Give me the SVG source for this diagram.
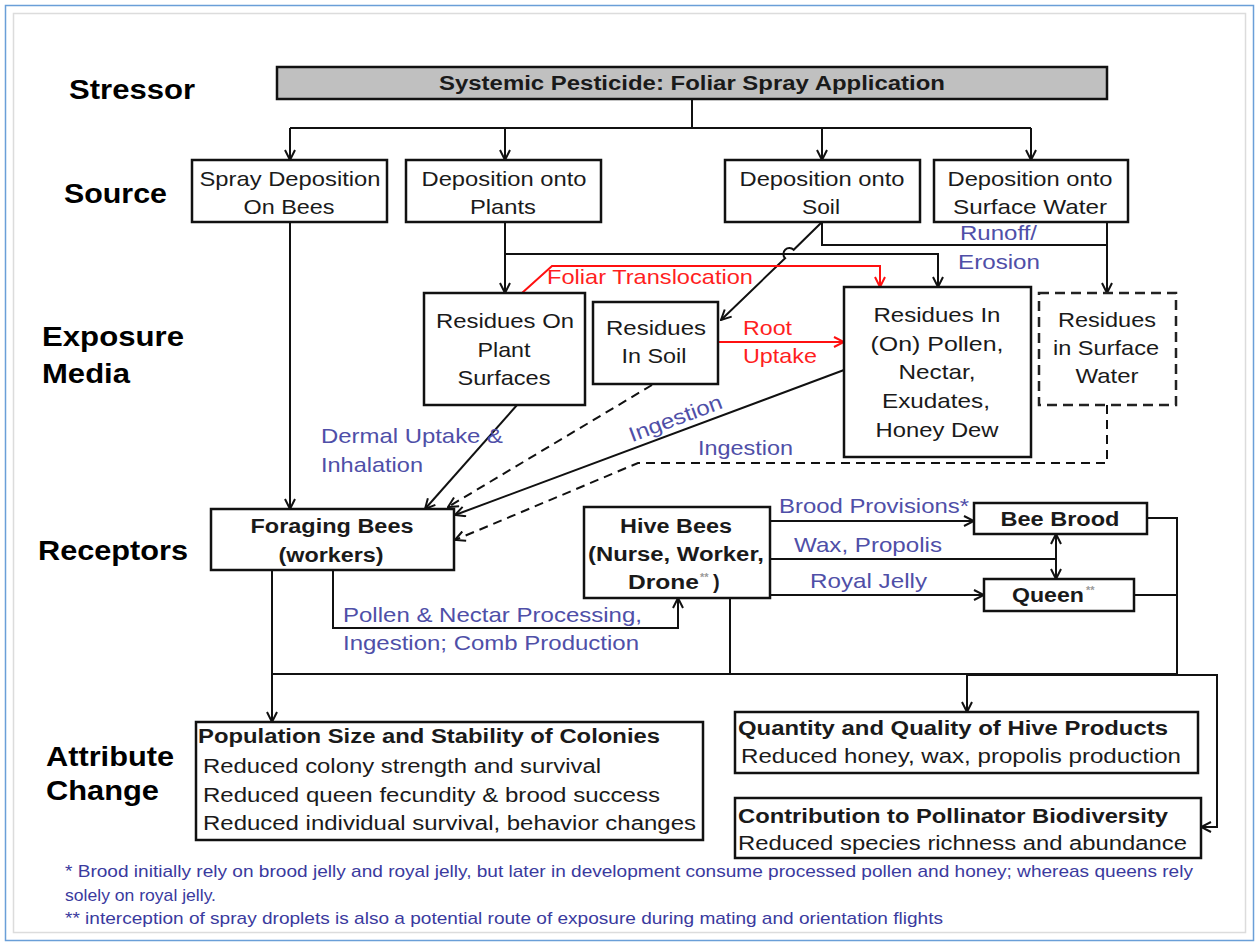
<svg xmlns="http://www.w3.org/2000/svg" width="1259" height="945" viewBox="0 0 1259 945">
  <style>
    .t { font-family: "Liberation Sans", Arial, Helvetica, sans-serif; font-size: 21px; fill: #1a1a1a; }
    .c { text-anchor: middle; }
    .b { font-weight: bold; }
    .bs { font-size: 20px; }
    .at { font-size: 19.5px; }
    .row { font-size: 28px; font-weight: bold; fill: #000; }
    .lbl { fill: #4f4fa8; }
    .red { fill: #ff1f1f; }
    .fn { font-size: 17px; fill: #3a3a9e; }
    .sup { font-size: 11px; fill: #9a9a9a; font-weight: bold; }
    .box { fill: #fff; stroke: #111; stroke-width: 2.5; }
    .bar { fill: #c0c0c0; stroke: #111; stroke-width: 2.5; }
    .dbox { fill: #fff; stroke: #222; stroke-width: 2.5; stroke-dasharray: 10 6; }
    .ln { fill: none; stroke: #111; stroke-width: 2; }
    .dash { stroke-dasharray: 9 6; }
    .rl { fill: none; stroke: #ff1010; stroke-width: 2; }
  </style>
  <defs>
    <marker id="ah" viewBox="0 0 12 12" markerWidth="12" markerHeight="12" refX="11" refY="6" orient="auto" markerUnits="userSpaceOnUse">
      <path d="M1,1 L11,6 L1,11" fill="none" stroke="#111" stroke-width="2"/>
    </marker>
    <marker id="ah2" viewBox="0 0 12 12" markerWidth="12" markerHeight="12" refX="11" refY="6" orient="auto-start-reverse" markerUnits="userSpaceOnUse">
      <path d="M1,1 L11,6 L1,11" fill="none" stroke="#111" stroke-width="2"/>
    </marker>
    <marker id="ahr" viewBox="0 0 12 12" markerWidth="12" markerHeight="12" refX="11" refY="6" orient="auto" markerUnits="userSpaceOnUse">
      <path d="M1,1 L11,6 L1,11" fill="none" stroke="#ff1010" stroke-width="2"/>
    </marker>
  </defs>

  <!-- page frame -->
  <rect x="0" y="0" width="1259" height="945" fill="#fff"/>
  <rect x="5.5" y="5.5" width="1248" height="935" fill="none" stroke="#6a9fd8" stroke-width="1.5"/>
  <rect x="13.5" y="13.5" width="1232" height="919" fill="none" stroke="#dcdcdc" stroke-width="1.5"/>

  <!-- tier labels -->
  <g id="tier-labels">
    <text class="t row" x="69" y="99" textLength="126" lengthAdjust="spacingAndGlyphs">Stressor</text>
    <text class="t row" x="64" y="203" textLength="103" lengthAdjust="spacingAndGlyphs">Source</text>
    <text class="t row" x="42" y="346" textLength="142" lengthAdjust="spacingAndGlyphs">Exposure</text>
    <text class="t row" x="42" y="383" textLength="88" lengthAdjust="spacingAndGlyphs">Media</text>
    <text class="t row" x="38" y="560" textLength="150" lengthAdjust="spacingAndGlyphs">Receptors</text>
    <text class="t row" x="46" y="766" textLength="128" lengthAdjust="spacingAndGlyphs">Attribute</text>
    <text class="t row" x="46" y="800" textLength="113" lengthAdjust="spacingAndGlyphs">Change</text>
  </g>

  <!-- connectors -->
  <g id="connectors">
    <!-- stressor fan-out -->
    <path class="ln" d="M692,99 V128"/>
    <path class="ln" d="M290,128 H1031"/>
    <path class="ln" d="M290,128 V160" marker-end="url(#ah)"/>
    <path class="ln" d="M505,128 V160" marker-end="url(#ah)"/>
    <path class="ln" d="M822,128 V160" marker-end="url(#ah)"/>
    <path class="ln" d="M1031,128 V160" marker-end="url(#ah)"/>

    <!-- source to exposure media -->
    <path class="ln" d="M290,222 V509" marker-end="url(#ah)"/>
    <path class="ln" d="M505,222 V293" marker-end="url(#ah)"/>
    <path class="ln" d="M505,254 H938 V287" marker-end="url(#ah)"/>
    <path class="ln" d="M822,222 V245 H1107"/>
    <path class="ln" d="M1107,222 V293" marker-end="url(#ah)"/>
    <path class="ln" d="M822,222 L793.7,249.8 A6,6 0 0 0 785.1,258.2 L721,320" marker-end="url(#ah)"/>

    <!-- plant uptake paths -->
    <path class="rl" d="M522,293 L552,266 H880 V287" marker-end="url(#ahr)"/>
    <path class="rl" d="M718,342 H844" marker-end="url(#ahr)"/>

    <!-- exposure media to foraging bees -->
    <path class="ln" d="M517,405 L425,509" marker-end="url(#ah)"/>
    <path class="ln dash" d="M652,385 L448,507" marker-end="url(#ah)"/>
    <path class="ln" d="M844,370 L455,515" marker-end="url(#ah)"/>
    <path class="ln dash" d="M1107,405 V463 H638 L455,540" marker-end="url(#ah)"/>

    <!-- foraging to hive bees -->
    <path class="ln" d="M333,570 V628 H678 V598" marker-end="url(#ah)"/>

    <!-- hive bees to brood and queen -->
    <path class="ln" d="M770,521 H974" marker-end="url(#ah)"/>
    <path class="ln" d="M770,559 H1056"/>
    <path class="ln" d="M1056,534 V579" marker-start="url(#ah2)" marker-end="url(#ah2)"/>
    <path class="ln" d="M770,595 H984" marker-end="url(#ah)"/>

    <!-- receptors to attribute change -->
    <path class="ln" d="M272,570 V722" marker-end="url(#ah)"/>
    <path class="ln" d="M272,674 H1177"/>
    <path class="ln" d="M730,598 V674"/>
    <path class="ln" d="M1147,518 H1177 V674"/>
    <path class="ln" d="M1134,595 H1177"/>
    <path class="ln" d="M967,675 H1217 V827 H1201" marker-end="url(#ah)"/>
    <path class="ln" d="M967,675 V712" marker-end="url(#ah)"/>
  </g>

  <!-- connector labels -->
  <g id="connector-labels">
    <text class="t red" x="547" y="284" textLength="206" lengthAdjust="spacingAndGlyphs">Foliar Translocation</text>
    <text class="t red" x="743" y="335" textLength="49" lengthAdjust="spacingAndGlyphs">Root</text>
    <text class="t red" x="743" y="363" textLength="74" lengthAdjust="spacingAndGlyphs">Uptake</text>
    <text class="t lbl" x="960" y="240" textLength="77" lengthAdjust="spacingAndGlyphs">Runoff/</text>
    <text class="t lbl" x="958" y="269" textLength="82" lengthAdjust="spacingAndGlyphs">Erosion</text>
    <text class="t lbl" x="321" y="443" textLength="182" lengthAdjust="spacingAndGlyphs">Dermal Uptake &amp;</text>
    <text class="t lbl" x="321" y="472" textLength="102" lengthAdjust="spacingAndGlyphs">Inhalation</text>
    <text class="t lbl c" transform="translate(678,425) rotate(-20.5)" x="0" y="0" textLength="98" lengthAdjust="spacingAndGlyphs">Ingestion</text>
    <text class="t lbl" x="698" y="455" textLength="95" lengthAdjust="spacingAndGlyphs">Ingestion</text>
    <text class="t lbl" x="343" y="622" textLength="299" lengthAdjust="spacingAndGlyphs">Pollen &amp; Nectar Processing,</text>
    <text class="t lbl" x="343" y="650" textLength="296" lengthAdjust="spacingAndGlyphs">Ingestion;  Comb Production</text>
    <text class="t lbl" x="779" y="513" textLength="190" lengthAdjust="spacingAndGlyphs">Brood Provisions*</text>
    <text class="t lbl" x="794" y="552" textLength="148" lengthAdjust="spacingAndGlyphs">Wax, Propolis</text>
    <text class="t lbl" x="810" y="588" textLength="117" lengthAdjust="spacingAndGlyphs">Royal Jelly</text>
  </g>

  <!-- stressor -->
  <g id="stressor">
    <rect class="bar" x="277" y="67" width="830" height="32"/>
    <text class="t b c bs" x="692" y="90" textLength="506" lengthAdjust="spacingAndGlyphs">Systemic Pesticide: Foliar Spray Application</text>
  </g>

  <!-- sources -->
  <g id="src-bees">
    <rect class="box" x="192" y="160" width="195" height="62"/>
    <text class="t c" x="290" y="186" textLength="181" lengthAdjust="spacingAndGlyphs">Spray Deposition</text>
    <text class="t c" x="289" y="214" textLength="91" lengthAdjust="spacingAndGlyphs">On Bees</text>
  </g>
  <g id="src-plants">
    <rect class="box" x="406" y="160" width="195" height="62"/>
    <text class="t c" x="504" y="186" textLength="165" lengthAdjust="spacingAndGlyphs">Deposition onto</text>
    <text class="t c" x="503" y="214" textLength="66" lengthAdjust="spacingAndGlyphs">Plants</text>
  </g>
  <g id="src-soil">
    <rect class="box" x="725" y="160" width="195" height="62"/>
    <text class="t c" x="822" y="186" textLength="165" lengthAdjust="spacingAndGlyphs">Deposition onto</text>
    <text class="t c" x="821" y="214" textLength="38" lengthAdjust="spacingAndGlyphs">Soil</text>
  </g>
  <g id="src-water">
    <rect class="box" x="934" y="160" width="194" height="62"/>
    <text class="t c" x="1030" y="186" textLength="165" lengthAdjust="spacingAndGlyphs">Deposition onto</text>
    <text class="t c" x="1030" y="214" textLength="154" lengthAdjust="spacingAndGlyphs">Surface Water</text>
  </g>

  <!-- exposure media -->
  <g id="res-plant-surfaces">
    <rect class="box" x="424" y="293" width="161" height="112"/>
    <text class="t c" x="505" y="328" textLength="138" lengthAdjust="spacingAndGlyphs">Residues On</text>
    <text class="t c" x="504" y="357" textLength="53" lengthAdjust="spacingAndGlyphs">Plant</text>
    <text class="t c" x="504" y="385" textLength="93" lengthAdjust="spacingAndGlyphs">Surfaces</text>
  </g>
  <g id="res-soil">
    <rect class="box" x="593" y="302" width="125" height="82"/>
    <text class="t c" x="656" y="335" textLength="100" lengthAdjust="spacingAndGlyphs">Residues</text>
    <text class="t c" x="654" y="363" textLength="65" lengthAdjust="spacingAndGlyphs">In Soil</text>
  </g>
  <g id="res-pollen-nectar">
    <rect class="box" x="844" y="287" width="187" height="170"/>
    <text class="t c" x="937" y="322" textLength="127" lengthAdjust="spacingAndGlyphs">Residues In</text>
    <text class="t c" x="937" y="351" textLength="133" lengthAdjust="spacingAndGlyphs">(On)  Pollen,</text>
    <text class="t c" x="937" y="379" textLength="77" lengthAdjust="spacingAndGlyphs">Nectar,</text>
    <text class="t c" x="936" y="408" textLength="108" lengthAdjust="spacingAndGlyphs">Exudates,</text>
    <text class="t c" x="937" y="437" textLength="123" lengthAdjust="spacingAndGlyphs">Honey Dew</text>
  </g>
  <g id="res-surface-water">
    <rect class="dbox" x="1039" y="293" width="137" height="112"/>
    <text class="t c" x="1107" y="327" textLength="98" lengthAdjust="spacingAndGlyphs">Residues</text>
    <text class="t c" x="1106" y="355" textLength="106" lengthAdjust="spacingAndGlyphs">in Surface</text>
    <text class="t c" x="1107" y="383" textLength="63" lengthAdjust="spacingAndGlyphs">Water</text>
  </g>

  <!-- receptors -->
  <g id="foraging-bees">
    <rect class="box" x="211" y="509" width="243" height="61"/>
    <text class="t b c bs" x="332" y="533" textLength="163" lengthAdjust="spacingAndGlyphs">Foraging Bees</text>
    <text class="t b c bs" x="331" y="562" textLength="105" lengthAdjust="spacingAndGlyphs">(workers)</text>
  </g>
  <g id="hive-bees">
    <rect class="box" x="584" y="507" width="186" height="91"/>
    <text class="t b c bs" x="676" y="533" textLength="112" lengthAdjust="spacingAndGlyphs">Hive Bees</text>
    <text class="t b c bs" x="676" y="561" textLength="176" lengthAdjust="spacingAndGlyphs">(Nurse, Worker,</text>
    <text class="t b bs" x="628" y="589" textLength="71" lengthAdjust="spacingAndGlyphs">Drone</text>
    <text class="t sup" x="700" y="581">**</text>
    <text class="t b bs" x="713" y="589">)</text>
  </g>
  <g id="bee-brood">
    <rect class="box" x="974" y="503" width="173" height="31"/>
    <text class="t b c bs" x="1060" y="526" textLength="119" lengthAdjust="spacingAndGlyphs">Bee Brood</text>
  </g>
  <g id="queen">
    <rect class="box" x="984" y="579" width="150" height="32"/>
    <text class="t b bs" x="1012" y="602" textLength="72" lengthAdjust="spacingAndGlyphs">Queen</text>
    <text class="t sup" x="1086" y="594">**</text>
  </g>

  <!-- attribute change -->
  <g id="colony-population">
    <rect class="box" x="196" y="722" width="507" height="118"/>
    <text class="t b at" x="198" y="743" textLength="462" lengthAdjust="spacingAndGlyphs">Population Size and Stability of Colonies</text>
    <text class="t at" x="203" y="773" textLength="398" lengthAdjust="spacingAndGlyphs">Reduced colony strength and survival</text>
    <text class="t at" x="203" y="802" textLength="457" lengthAdjust="spacingAndGlyphs">Reduced queen fecundity &amp; brood success</text>
    <text class="t at" x="203" y="830" textLength="493" lengthAdjust="spacingAndGlyphs">Reduced individual survival, behavior changes</text>
  </g>
  <g id="hive-products">
    <rect class="box" x="735" y="712" width="463" height="61"/>
    <text class="t b at" x="738" y="735" textLength="430" lengthAdjust="spacingAndGlyphs">Quantity and Quality of Hive Products</text>
    <text class="t at" x="741" y="763" textLength="440" lengthAdjust="spacingAndGlyphs">Reduced honey, wax, propolis production</text>
  </g>
  <g id="biodiversity">
    <rect class="box" x="735" y="798" width="466" height="60"/>
    <text class="t b at" x="738" y="823" textLength="430" lengthAdjust="spacingAndGlyphs">Contribution to Pollinator Biodiversity</text>
    <text class="t at" x="738" y="850" textLength="449" lengthAdjust="spacingAndGlyphs">Reduced species richness and abundance</text>
  </g>

  <!-- footnotes -->
  <g id="footnotes">
    <text class="t fn" x="65" y="877" textLength="1128" lengthAdjust="spacingAndGlyphs">* Brood initially rely on brood jelly and royal jelly, but later in development consume processed pollen and honey; whereas queens rely</text>
    <text class="t fn" x="65" y="901" textLength="151" lengthAdjust="spacingAndGlyphs">solely on royal jelly.</text>
    <text class="t fn" x="65" y="924" textLength="878" lengthAdjust="spacingAndGlyphs">** interception of spray droplets is also a potential route of exposure during mating and orientation flights</text>
  </g>
</svg>
